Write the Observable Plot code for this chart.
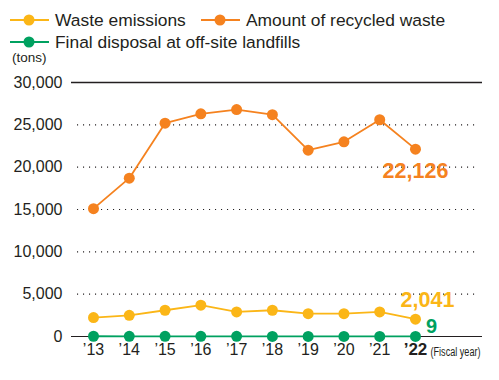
<!DOCTYPE html>
<html>
<head>
<meta charset="utf-8">
<script src="https://cdn.jsdelivr.net/npm/d3@7"></script>
<script src="https://cdn.jsdelivr.net/npm/@observablehq/plot@0.6"></script>
<style>
  body { margin: 0; background: #fff; font-family: "Liberation Sans", Arial, sans-serif; color: #231f20; }
  #wrap { position: relative; width: 499px; height: 380px; overflow: hidden; }
  #legend { position: relative; height: 66px; }
  .item { position: absolute; display: flex; align-items: center; font-size: 17.4px; white-space: nowrap; }
  .item svg { margin-right: 6px; }
  #unit { position: absolute; left: 12px; top: 50px; font-size: 13.5px; }
</style>
</head>
<body>
<div id="wrap">
  <div id="legend"></div>
  <div id="chart"></div>
</div>
<script>
const years = [2013, 2014, 2015, 2016, 2017, 2018, 2019, 2020, 2021, 2022];
const wasteEmissions = [2240, 2500, 3100, 3700, 2900, 3100, 2700, 2700, 2900, 2041];
const recycledWaste = [15100, 18700, 25200, 26300, 26800, 26200, 22000, 23000, 25600, 22126];
const finalDisposal = [30, 25, 20, 18, 15, 13, 11, 10, 10, 9];
const yTicks = [0, 5000, 10000, 15000, 20000, 25000, 30000];
const gridTicks = [5000, 10000, 15000, 20000, 25000];
const seriesNames = ["Waste emissions", "Amount of recycled waste", "Final disposal at off-site landfills"];
const colors = ["#FBB617", "#F5821F", "#00A160"];
const lastLabels = ["2,041", "22,126", "9"];

const seriesValues = [wasteEmissions, recycledWaste, finalDisposal];
const data = seriesValues.flatMap((vals, s) => years.map((y, i) => ({series: seriesNames[s], year: y, value: vals[i], color: colors[s]})));
const last = data.filter(d => d.year === 2022);

// Legend
const legend = document.getElementById("legend");
const legendPos = [{left: 10, top: 9}, {left: 201, top: 9}, {left: 10, top: 31}];
seriesNames.forEach((name, i) => {
  const div = document.createElement("div");
  div.className = "item";
  div.style.left = legendPos[i].left + "px";
  div.style.top = legendPos[i].top + "px";
  div.innerHTML = `<svg width="39" height="22"><line x1="0" x2="39" y1="11" y2="11" stroke="${colors[i]}" stroke-width="2"/><circle cx="19" cy="11" r="5.5" fill="${colors[i]}"/></svg><span>${name}</span>`;
  legend.appendChild(div);
});
const unit = document.createElement("div");
unit.id = "unit";
unit.textContent = "(tons)";
legend.appendChild(unit);

const fmt = d3.format(",");
const chart = Plot.plot({
  width: 499,
  height: 314,
  marginTop: 16,
  marginBottom: 44,
  marginLeft: 71,
  marginRight: 17,
  style: {fontFamily: "'Liberation Sans', Arial, sans-serif", color: "#231f20", background: "#fff"},
  x: {domain: [2012.385, 2023.873], axis: null},
  y: {domain: [0, 30000], axis: null},
  marks: [
    Plot.ruleY(gridTicks, {stroke: "#231f20", strokeWidth: 1.1, strokeDasharray: "1.1,4.9", insetLeft: 6, insetRight: 4}),
    Plot.ruleY([30000], {stroke: "#231f20", strokeWidth: 1.4}),
    Plot.ruleY([0], {stroke: "#231f20", strokeWidth: 1.1}),
    Plot.axisY({ticks: yTicks, tickSize: 0, tickPadding: 9, tickFormat: fmt, fontSize: 16, label: null}),
    Plot.text(years.filter(y => y !== 2022), {x: d => d, text: d => "\u2019" + String(d).slice(2), frameAnchor: "bottom", dy: 18, fontSize: 16, fill: "#231f20"}),
    Plot.text([2022], {x: d => d, text: d => "\u2019" + String(d).slice(2), frameAnchor: "bottom", dy: 18, fontSize: 17, fontWeight: "bold", fill: "#231f20"}),
    Plot.text(["(Fiscal year)"], {x: [2022], text: d => d, frameAnchor: "bottom", dx: 15, dy: 19, textAnchor: "start", fontSize: 12, fill: "#231f20", className: "fiscal"}),
    Plot.line(data, {x: "year", y: "value", z: "series", stroke: "color", strokeWidth: 1.8}),
    Plot.dot(data, {x: "year", y: "value", fill: "color", r: 5.5}),
    Plot.text(last.filter(d => d.series === seriesNames[1]), {x: "year", y: "value", text: () => lastLabels[1], fill: "color", fontSize: 21.5, fontWeight: "bold", dy: 22}),
    Plot.text(last.filter(d => d.series === seriesNames[0]), {x: "year", y: "value", text: () => lastLabels[0], fill: "color", fontSize: 21.5, fontWeight: "bold", dx: 12, dy: -19}),
    Plot.text(last.filter(d => d.series === seriesNames[2]), {x: "year", y: "value", text: () => lastLabels[2], fill: "color", fontSize: 20, fontWeight: "bold", dx: 16, dy: -10})
  ]
});
d3.select(chart).selectAll("text").filter(function() { return this.textContent === "(Fiscal year)"; })
  .attr("textLength", 50).attr("lengthAdjust", "spacingAndGlyphs");
document.getElementById("chart").appendChild(chart);
</script>
</body>
</html>
